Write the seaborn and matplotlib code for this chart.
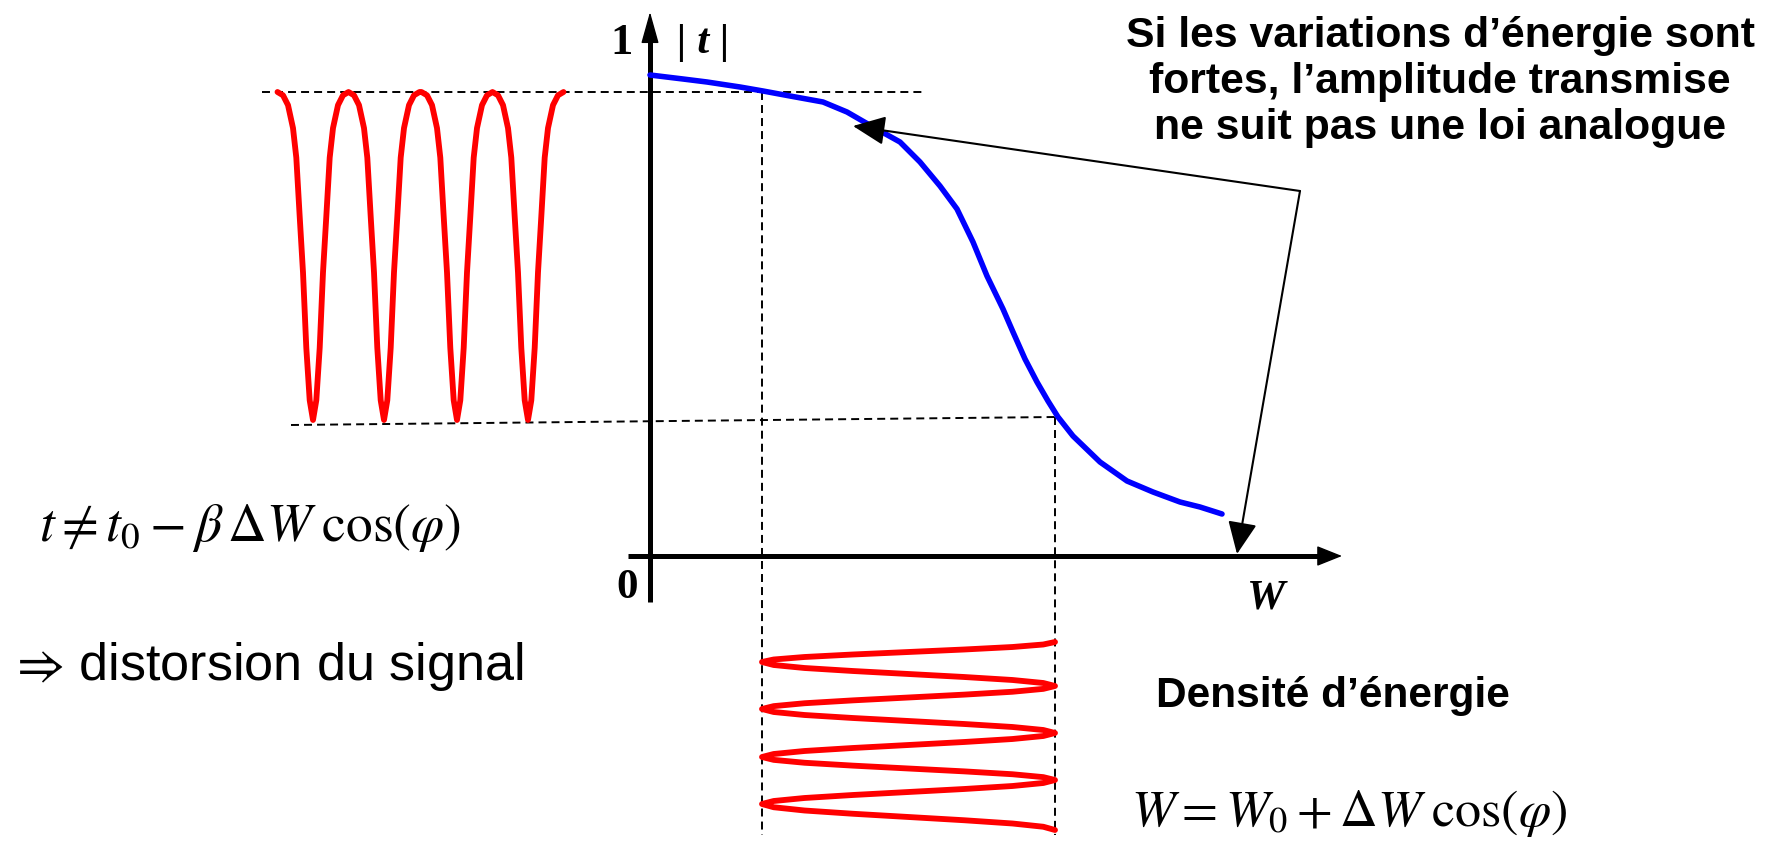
import numpy as np
import matplotlib
matplotlib.use("Agg")
import matplotlib.pyplot as plt
import seaborn as sns

# ---------------- data (diagram coordinates, pixels, y downward) ----------------
# transmission curve |t|(W)
curve_W = [650, 683, 707, 740, 763, 790, 823, 847, 873, 900, 920, 940, 957, 973, 987,
           1003, 1013, 1025, 1037, 1048, 1058, 1073, 1100, 1127, 1153, 1180, 1200, 1222]
curve_t = [76, 80, 83, 88, 92, 97, 103, 113, 128, 143, 163, 187, 210, 243, 277,
           310, 333, 360, 383, 402, 418, 437, 463, 482, 493, 503, 508, 515]

# transmitted signal (left): positions of the sharp minima and the half-profile
sig_minima = [313, 384, 457, 528]
sig_half_offset = [0, 3.3, 6.7, 10, 13.3, 16.7, 20, 25, 30, 35.5]
sig_half_level = [0, 0.06, 0.22, 0.45, 0.62, 0.80, 0.89, 0.96, 0.99, 1.0]
sig_top, sig_bottom = 93, 421

# energy density (bottom): extremes alternately at W max / W min
dens_ext_y = [643, 663, 687, 710, 734, 758, 781, 805, 831]
dens_profile = [1, 0.92, 0.71, 0.38, 0, -0.38, -0.71, -0.92, -1]
dens_Wmin, dens_Wmax = 762, 1055

# ---------------- build series ----------------
sx, sy = [], []
for m in sig_minima:
    for o, h in zip(sig_half_offset[::-1], sig_half_level[::-1]):
        sx.append(m - o); sy.append(sig_bottom - h * (sig_bottom - sig_top))
    for o, h in zip(sig_half_offset[1:], sig_half_level[1:]):
        sx.append(m + o); sy.append(sig_bottom - h * (sig_bottom - sig_top))

dx, dy = [], []
mid = (dens_Wmin + dens_Wmax) / 2
half = (dens_Wmax - dens_Wmin) / 2
nprof = len(dens_profile) - 1
for i in range(len(dens_ext_y) - 1):
    sign = 1 if i % 2 == 0 else -1
    y0, y1 = dens_ext_y[i], dens_ext_y[i + 1]
    for k, p in enumerate(dens_profile):
        if i > 0 and k == 0:
            continue
        dx.append(mid + half * p * sign)
        dy.append(y0 + (y1 - y0) * k / nprof)

# ---------------- figure ----------------
sns.set_theme(style="white")
plt.rcParams['mathtext.fontset'] = 'stix'
plt.rcParams['text.color'] = 'black'
fig = plt.figure(figsize=(17.68, 8.54), dpi=100)
ax = fig.add_axes([0, 0, 1, 1])
ax.set_xlim(0, 1768)
ax.set_ylim(854, 0)
ax.axis('off')

dash = dict(color='black', lw=1.4, dashes=(4.1, 2.6))
ax.plot([262, 923], [93, 93], **dash)
ax.plot([291, 1055], [426, 418], **dash)
ax.plot([762, 762], [93, 836], **dash)
ax.plot([1055, 1055], [418, 836], **dash)

# axes with arrows
ax.plot([650, 650], [603, 30], color='black', lw=3.6, solid_capstyle='butt')
ax.annotate('', xy=(650, 13), xytext=(650, 45),
            arrowprops=dict(arrowstyle='-|>,head_length=1.0,head_width=0.28', color='black',
                            lw=1, mutation_scale=20, shrinkA=0, shrinkB=0))
ax.plot([628, 1322], [557, 557], color='black', lw=3.6, solid_capstyle='butt')
ax.annotate('', xy=(1342, 557), xytext=(1310, 557),
            arrowprops=dict(arrowstyle='-|>,head_length=0.8,head_width=0.32', color='black',
                            lw=1, mutation_scale=20, shrinkA=0, shrinkB=0))

sns.lineplot(x=curve_W, y=curve_t, sort=False, estimator=None, color='#0000ff', lw=4.0, ax=ax)
sns.lineplot(x=sx, y=sy, sort=False, estimator=None, color='#ff0000', lw=4.2, ax=ax)
sns.lineplot(x=dx, y=dy, sort=False, estimator=None, color='#ff0000', lw=4.2, ax=ax)

# annotation arrows
for tip in [(853, 127), (1237, 555)]:
    ax.annotate('', xy=tip, xytext=(1300, 192),
                arrowprops=dict(arrowstyle='-|>,head_length=1.0,head_width=0.45', color='black',
                                lw=1.5, mutation_scale=20, shrinkA=0, shrinkB=0))

serif = 'Liberation Serif'
ax.text(621, 43, '1', fontsize=32, fontweight='bold', family=serif, ha='center', va='center',
        color='black')
ax.text(703, 43, '| t |', fontsize=31, fontweight='bold', fontstyle='italic', family=serif,
        ha='center', va='center', color='black')
ax.text(627, 588, '0', fontsize=31, fontweight='bold', family=serif, ha='center', va='center',
        color='black')
ax.text(1265, 599, 'W', fontsize=31, fontweight='bold', fontstyle='italic', family=serif,
        ha='center', va='center', color='black')

sans = ['Liberation Sans', 'DejaVu Sans']
ax.text(1440, 82, "Si les variations d\u2019énergie sont\nfortes, l\u2019amplitude transmise\nne suit pas une loi analogue",
        fontsize=30.8, fontweight='bold', family=sans, ha='center', va='center',
        multialignment='center', linespacing=1.2, color='black')
ax.text(1333, 696, "Densité d\u2019énergie", fontsize=30.5, fontweight='bold', family=sans,
        ha='center', va='center', color='black')
ax.text(9, 667, r"$\Rightarrow\,$distorsion du signal", fontsize=37.5,
        family=sans, ha='left', va='center', color='black')
ax.text(39, 528, r"$t \neq t_0 - \beta\,\Delta W\;\cos\!\left(\varphi\right)$", fontsize=38.5,
        ha='left', va='center', color='black')
ax.text(1131, 814, r"$W = W_0 + \Delta W\;\cos\!\left(\varphi\right)$", fontsize=37.5,
        ha='left', va='center', color='black')

fig.savefig('out.png', dpi=100, facecolor='white')
